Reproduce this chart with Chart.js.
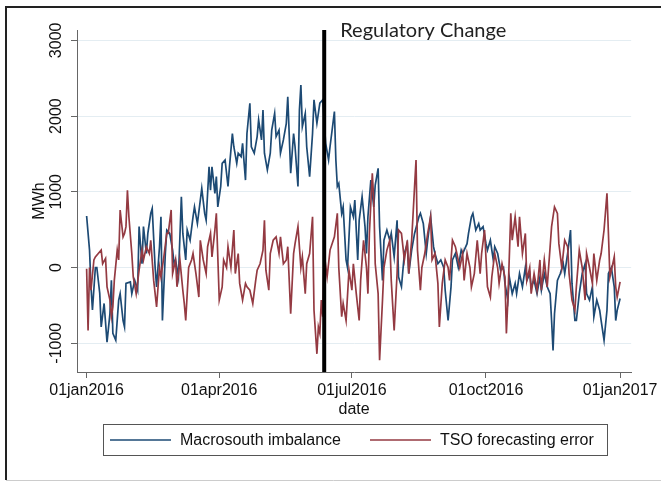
<!DOCTYPE html>
<html>
<head>
<meta charset="utf-8">
<script src="https://cdn.jsdelivr.net/npm/chart.js@4.4.0/dist/chart.umd.min.js"></script>
<style>
  html, body { margin: 0; padding: 0; background: #fff; }
</style>
</head>
<body>
<canvas id="chart" width="661" height="482"></canvas>
<script>
// days are counted from 01jan2016 (day 0)
var seriesNames = ["Macrosouth imbalance", "TSO forecasting error"];
var seriesColors = ["#1d4a74", "#943a42"];

var imbDays = [0,2,3,4,6,7,9,10,12,14,16,17,18,20,22,23,25,26,27,30,31,33,35,36,38,39,41,42,44,45,47,48,50,51,52,54,55,57,59,60,61,63,65,66,68,69,71,73,74,76,78,79,81,82,84,85,86,88,89,90,92,93,95,97,98,100,101,103,104,106,107,109,110,112,113,115,117,118,120,121,122,124,126,127,129,130,132,133,135,137,138,140,142,143,145,146,147,148,150,151,153,155,156,158,159,160,162,164,166,167,170,171,172,173,175,176,178,179,181,183,184,186,187,189,191,192,193,195,197,198,200,201,203,204,206,208,209,211,213,214,216,218,220,221,223,225,228,229,231,233,234,236,238,239,241,243,245,246,248,250,251,253,255,257,258,261,262,264,265,267,269,270,272,274,275,277,279,280,282,284,286,287,289,290,292,294,295,297,299,301,302,304,305,307,309,311,312,314,316,318,319,320,321,323,325,327,328,330,332,333,335,336,338,340,342,343,345,347,348,350,352,353,355,357,358,360,362,363,364,366];
var imbVals = [680,230,-255,-560,0,0,-340,-785,-475,-985,-610,-170,-870,-960,-430,-345,-700,-785,-210,-190,-345,-170,-300,540,50,540,185,450,715,780,0,-255,275,670,-700,185,495,450,230,50,100,-125,935,450,100,495,360,670,800,580,890,1045,715,625,1330,1020,1330,980,1200,800,1070,1375,1420,1070,1330,1770,1595,1375,1510,1465,1640,1155,1770,2170,1595,1510,1730,1950,1685,2080,1510,1290,1510,1815,2035,1730,1815,1510,1685,1905,2255,1245,1770,1595,1070,2080,2410,1860,2035,1595,1200,1770,2215,1905,2035,2170,2215,1640,1420,1595,2060,1420,1070,1110,715,800,100,0,800,670,890,100,625,935,540,185,670,1155,800,1090,1310,540,-170,360,495,360,450,140,625,-125,-255,185,315,-80,230,450,670,715,580,185,360,670,275,185,50,100,0,-300,-700,-255,100,185,0,230,185,315,450,670,715,495,580,495,540,315,230,360,100,275,185,-35,0,-210,-430,-125,-345,-210,-345,-80,-255,0,-170,-80,-255,-170,-345,-125,-300,-80,-255,-345,-700,-1095,-610,-170,-80,50,-80,185,495,-210,-700,-700,-345,-80,50,-345,-430,-255,-650,-430,-565,-700,-960,-565,-80,0,-255,-700,-565,-410];

var tsoDays = [0,1,2,3,5,6,8,10,11,13,14,16,17,18,19,21,22,23,25,26,27,28,29,31,32,34,36,38,39,41,43,44,46,48,50,51,53,55,56,58,59,61,62,64,66,67,68,70,72,73,75,77,78,80,82,83,85,86,88,89,91,93,94,96,97,99,101,102,104,105,107,109,110,112,114,116,117,119,121,122,123,125,126,128,130,132,133,135,137,138,140,142,143,145,147,148,150,151,153,155,156,158,159,160,161,162,163,165,167,170,172,173,175,176,178,180,182,183,185,187,188,190,192,193,194,196,197,198,200,201,203,204,206,208,209,211,213,214,216,218,220,221,223,225,226,227,229,230,232,234,236,237,239,241,242,244,246,248,249,251,253,254,256,258,259,261,263,264,266,268,270,271,273,275,277,278,280,282,283,285,287,288,289,291,292,294,296,297,299,301,302,304,305,307,309,311,312,314,316,318,319,321,323,324,326,328,330,331,333,335,336,338,340,342,343,345,347,348,350,352,353,355,357,358,359,361,362,363,364,366];
var tsoVals = [-15,-830,0,-300,100,140,185,230,50,120,-255,-430,-650,-520,-170,230,100,760,405,450,540,1020,670,185,-125,-345,-35,230,100,275,185,360,-170,-520,0,-125,140,450,450,760,-80,100,-255,100,-300,-475,-700,0,100,185,-80,-390,360,100,-80,275,450,140,495,715,-430,-255,100,0,275,0,495,-80,185,-210,-430,-210,-255,-300,-475,-170,-35,50,230,625,-35,-300,185,360,405,185,405,50,100,275,-610,185,315,540,0,140,-345,50,185,670,-565,-1140,-785,-870,-430,-650,185,-125,230,405,715,0,-650,-475,-700,-35,-300,50,-345,-700,-170,360,0,-345,450,1245,890,50,-345,-1225,-430,0,230,360,-170,-830,-80,495,450,100,360,-80,360,1070,1420,230,-300,0,185,450,670,100,185,-210,-785,-210,100,0,-170,360,275,185,0,185,-170,185,0,-255,-80,360,-80,185,495,-255,-390,-125,185,0,-210,50,-125,-870,-430,715,360,670,275,670,185,450,-170,0,-345,-80,-300,100,-300,100,-255,275,540,800,715,315,0,360,275,-80,-430,-565,-255,230,0,-430,185,0,-210,185,-170,100,185,495,980,450,-125,50,140,-255,-390,-190];

var tickDays = [0, 91, 182, 274, 366];
var tickLabels = ["01jan2016", "01apr2016", "01jul2016", "01oct2016", "01jan2017"];
var yTicks = [-1000, 0, 1000, 2000, 3000];
var changeDay = 163;
var changeLabel = "Regulatory Change";

function toPoints(days, vals) {
  return days.map(function (d, i) { return { x: d, y: vals[i] }; });
}

Chart.defaults.font.family = "'Liberation Sans', Arial, sans-serif";
Chart.defaults.font.size = 16;
Chart.defaults.color = "#111";

var extras = {
  id: "extras",
  beforeDraw: function (chart) {
    var ctx = chart.ctx;
    ctx.save();
    ctx.fillStyle = "#fff";
    ctx.fillRect(0, 0, chart.width, chart.height);
    ctx.restore();
  },
  afterDatasetsDraw: function (chart) {
    var ctx = chart.ctx, a = chart.chartArea;
    var x = chart.scales.x.getPixelForValue(changeDay);
    ctx.save();
    ctx.strokeStyle = "#000";
    ctx.lineWidth = 4;
    ctx.beginPath();
    ctx.moveTo(x, a.top);
    ctx.lineTo(x, a.bottom);
    ctx.stroke();
    ctx.fillStyle = "#222";
    ctx.font = "20px Lato, 'Open Sans', sans-serif";
    ctx.textBaseline = "alphabetic";
    ctx.fillText(changeLabel, x + 16, 37);
    ctx.restore();
  },
  afterDraw: function (chart) {
    var ctx = chart.ctx;
    ctx.save();
    // outer frame
    ctx.strokeStyle = "#222";
    ctx.lineWidth = 2;
    ctx.beginPath();
    ctx.moveTo(661, 7);
    ctx.lineTo(6, 7);
    ctx.lineTo(6, 480);
    ctx.stroke();
    ctx.strokeStyle = "#ccc";
    ctx.lineWidth = 1;
    ctx.beginPath();
    ctx.moveTo(6, 480.5);
    ctx.lineTo(661, 480.5);
    ctx.stroke();
    // legend
    ctx.strokeStyle = "#555";
    ctx.strokeRect(103.5, 424.5, 504, 31);
    var items = [[110, 180], [370, 440]];
    ctx.font = "16px 'Liberation Sans', Arial, sans-serif";
    ctx.textBaseline = "middle";
    ctx.fillStyle = "#111";
    chart.data.datasets.forEach(function (ds, i) {
      ctx.strokeStyle = ds.borderColor;
      ctx.lineWidth = 1.4;
      ctx.beginPath();
      ctx.moveTo(items[i][0], 440);
      ctx.lineTo(items[i][0] + 61, 440);
      ctx.stroke();
      ctx.fillText(ds.label, items[i][1], 441);
    });
    ctx.restore();
  }
};

new Chart(document.getElementById("chart"), {
  type: "line",
  data: {
    datasets: [
      { label: seriesNames[0], data: toPoints(imbDays, imbVals), borderColor: seriesColors[0], borderWidth: 1.7, pointRadius: 0, tension: 0, order: 1 },
      { label: seriesNames[1], data: toPoints(tsoDays, tsoVals), borderColor: seriesColors[1], borderWidth: 1.7, pointRadius: 0, tension: 0, order: 0 }
    ]
  },
  options: {
    responsive: false,
    animation: false,
    layout: { padding: { left: 0, right: 27, top: 30, bottom: 0 } },
    plugins: { legend: { display: false }, tooltip: { enabled: false } },
    scales: {
      x: {
        type: "linear",
        min: -6.6,
        max: 373.6,
        afterBuildTicks: function (scale) {
          scale.ticks = tickDays.map(function (v) { return { value: v }; });
        },
        afterFit: function (scale) { scale.height = 110; },
        ticks: {
          padding: 3,
          maxRotation: 0,
          callback: function (v) { return tickLabels[tickDays.indexOf(v)]; }
        },
        grid: { drawOnChartArea: false, drawTicks: true, tickLength: 6, tickColor: "#666" },
        border: { display: true, color: "#666", width: 1 },
        title: { display: true, text: "date", padding: { top: 0, bottom: 63 } }
      },
      y: {
        min: -1380,
        max: 3137,
        afterBuildTicks: function (scale) {
          scale.ticks = yTicks.map(function (v) { return { value: v }; });
        },
        afterFit: function (scale) { scale.width = 77; },
        ticks: {
          minRotation: 90,
          maxRotation: 90,
          crossAlign: "center",
          padding: -6,
          callback: function (v) { return String(v); }
        },
        grid: { color: "#e4edf2", lineWidth: 1, tickLength: 6, tickColor: "#666" },
        border: { display: true, color: "#666", width: 1 },
        title: { display: true, text: "MWh", padding: { top: 30, bottom: 0 } }
      }
    }
  },
  plugins: [extras]
});
</script>
</body>
</html>
